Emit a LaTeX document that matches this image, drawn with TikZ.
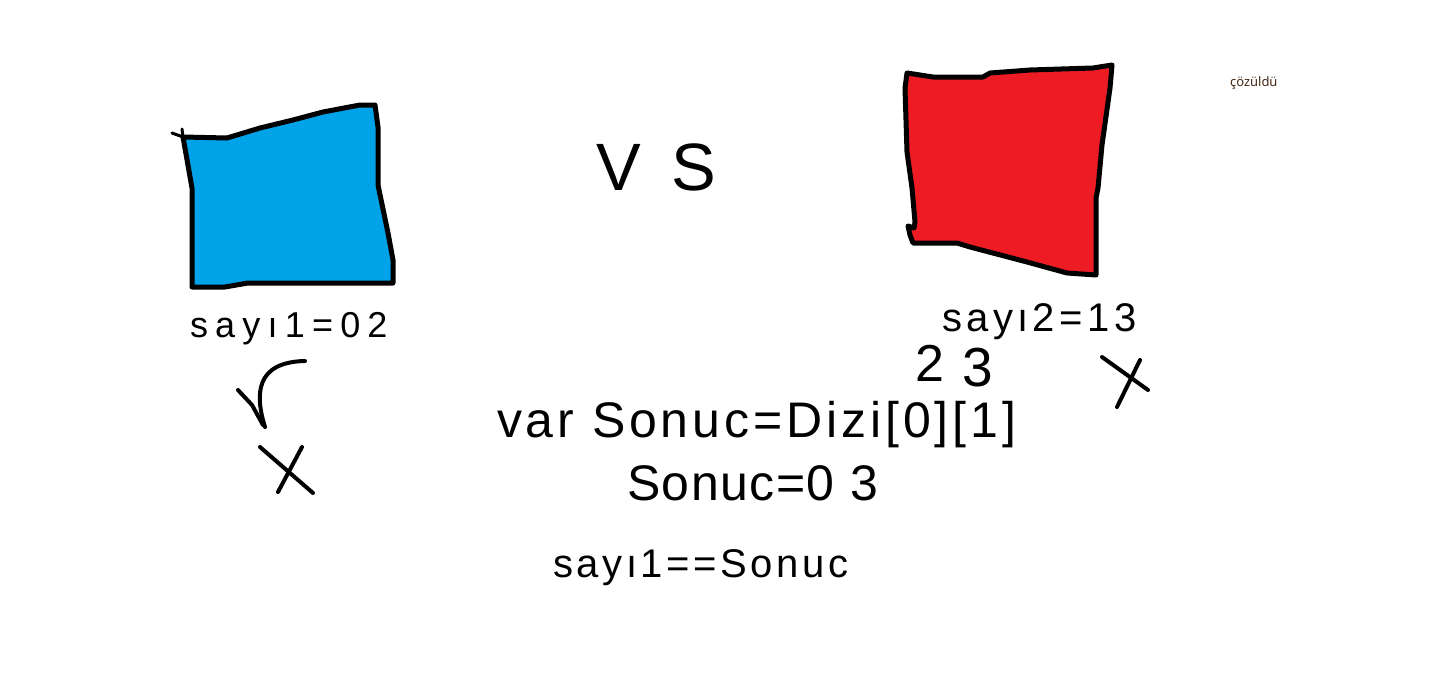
\documentclass[tikz,border=0pt]{standalone}
\usepackage{fontspec}
\setmainfont{Liberation Sans}
\newfontfamily\uifont{Noto Sans}
\definecolor{paintblue}{RGB}{0,162,232}
\definecolor{paintred}{RGB}{237,28,36}
\definecolor{soltext}{RGB}{70,40,20}
\tikzset{
  ink/.style={draw=black, line width=5pt, line cap=round, line join=round},
  hand/.style={inner sep=0pt, outer sep=0pt, anchor=base west, text=black},
}
\begin{document}
\begin{tikzpicture}[x=1pt,y=-1pt]
\useasboundingbox[fill=white] (0,0) rectangle (1434,677);
% blue square
\draw[ink, fill=paintblue] (183,137) -- (227,138) -- (260,128) -- (293,120) -- (323,112) -- (360,105) -- (375,105) -- (378,127) -- (378,185) -- (388,233) -- (393,260) -- (393,283) -- (248,283) -- (225,287) -- (192,287) -- (192,188) -- cycle;
\draw[ink, line width=3pt] (172,133) -- (183,137) -- (182,129);
% red square
\draw[ink, fill=paintred] (907,73) -- (933,77) -- (983,77) -- (990,73) -- (1030,70) -- (1093,68) -- (1112,65) -- (1110,88) -- (1102,145) -- (1098,188) -- (1096,198) -- (1096,275) -- (1067,273) -- (1027,262) -- (970,247) -- (957,243) -- (913,243) -- (910,235) -- (908,226) -- (914,228) -- (915,222) -- (912,188) -- (907,152) -- (905,88) -- cycle;
% VS
\node[hand, font=\fontsize{67}{67}\selectfont] (vs) at (596,190) {V\hspace{12pt} S};
% labels under squares
\node[hand, font=\fontsize{36}{36}\selectfont\addfontfeature{LetterSpace=20}] (s1) at (190,337) {sayı1=02};
\node[hand, font=\fontsize{40}{40}\selectfont\addfontfeature{LetterSpace=11}] (s2) at (942,331) {sayı2=13};
% check and crosses
\draw[ink, line width=4pt] (238,390) -- (252,405) -- (263,425);
\draw[ink, line width=4pt] (265,427) .. controls (255,395) and (255,362) .. (305,361);
\draw[ink, line width=4pt] (260,447) -- (313,493);
\draw[ink, line width=4pt] (302,447) -- (278,492);
\draw[ink, line width=4pt] (1102,357) -- (1148,390);
\draw[ink, line width=4pt] (1140,360) -- (1117,407);
% code lines
\node[hand, anchor=base, font=\fontsize{52}{52}\selectfont] (two) at (930,381) {2};
\node[hand, anchor=base, font=\fontsize{55}{55}\selectfont] (three) at (978,386) {3};
\node[hand, font=\fontsize{50}{50}\selectfont\addfontfeature{LetterSpace=7.8}] (l1) at (497,437) {var Sonuc=Dizi[0][1]};
\node[hand, font=\fontsize{50}{50}\selectfont\addfontfeature{LetterSpace=3}] (l2) at (627,500) {Sonuc=0 3};
\node[hand, font=\fontsize{40}{40}\selectfont\addfontfeature{LetterSpace=9}] (l3) at (553,577) {sayı1==Sonuc};
% solved note
\node[hand, text=soltext, font=\uifont\fontsize{13}{13}\selectfont] (sol) at (1230,86) {çözüldü};
\end{tikzpicture}
\end{document}
